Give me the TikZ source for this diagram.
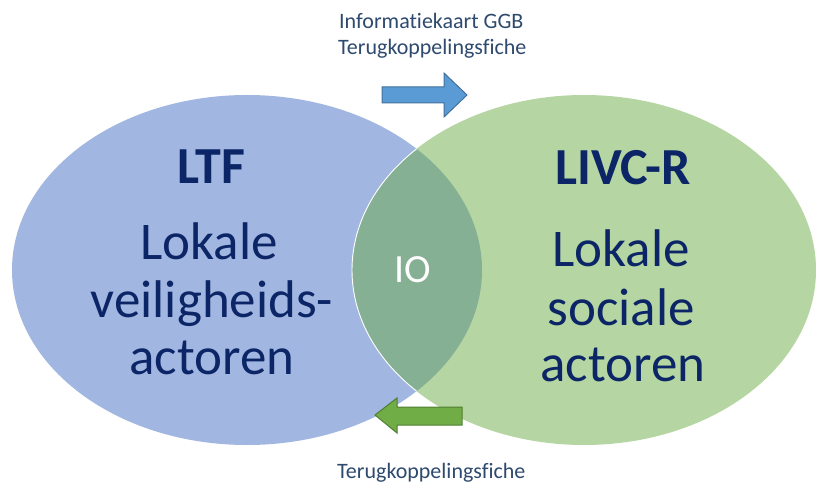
\documentclass[tikz,border=0pt]{standalone}
\usepackage{fontspec}
\setmainfont{Carlito}[RawFeature={-liga;-calt;-dlig;-clig}]
\definecolor{lblue}{HTML}{A1B7E1}
\definecolor{lgreen}{HTML}{B5D5A2}
\definecolor{lens}{HTML}{86B093}
\definecolor{navy}{HTML}{0B2566}
\definecolor{txtgrey}{HTML}{2E4A6E}
\definecolor{arrblue}{HTML}{5B9BD5}
\definecolor{arrblueline}{HTML}{41719C}
\definecolor{arrgreen}{HTML}{70AD47}
\definecolor{arrgreenline}{HTML}{507E32}
\tikzset{
  title/.style={anchor=base, text=navy, font=\fontsize{52}{60}\selectfont\bfseries, inner sep=0pt},
  body/.style={anchor=base, text=navy, font=\fontsize{53}{60}\selectfont, inner sep=0pt},
  small/.style={anchor=base west, text=txtgrey, font=\fontsize{22}{26}\selectfont, inner sep=0pt},
  blockarrow/.style={line width=1pt, line join=miter}
}
\begin{document}
\begin{tikzpicture}[x=1pt,y=-1pt]
\useasboundingbox (0,0) rectangle (816,486);
\fill[white] (0,0) rectangle (816,486);
% ellipses
\fill[lblue] (247,270) ellipse [x radius=235, y radius=175];
\fill[lgreen] (584,270) ellipse [x radius=232, y radius=175];
\begin{scope}
  \clip (247,270) ellipse [x radius=235, y radius=175];
  \fill[lens] (584,270) ellipse [x radius=232, y radius=175];
  \draw[white, line width=0.9pt] (584,270) ellipse [x radius=232, y radius=175];
\end{scope}
% left texts
\node[title] (ltf) at (211,184) {LTF};
\node[body] (l1) at (209,259) {Lokale};
\node[body] (l2) at (212,317) {veiligheids-};
\node[body] (l3) at (212,374) {actoren};
% right texts
\node[title] (livc) at (623,185) {LIVC-R};
\node[body] (r1) at (621,267) {Lokale};
\node[body] (r2) at (621,325) {sociale};
\node[body] (r3) at (623,381) {actoren};
% intersection
\node[anchor=base, text=white, font=\fontsize{40}{46}\selectfont, inner sep=0pt] (io) at (413,282) {IO};
% top labels
\node[small] (t1) at (339,29) {Informatiekaart GGB};
\node[small] (t2) at (338,55) {Terugkoppelingsfiche};
% bottom label
\node[small] (b1) at (337,478) {Terugkoppelingsfiche};
% arrows
\filldraw[blockarrow, fill=arrblue, draw=arrblueline]
  (382,87) -- (444,87) -- (444,73) -- (467,95) -- (444,117) -- (444,103) -- (382,103) -- cycle;
\filldraw[blockarrow, fill=arrgreen, draw=arrgreenline]
  (462,407) -- (397,407) -- (397,398) -- (375,415) -- (397,433) -- (397,425) -- (462,425) -- cycle;
\end{tikzpicture}
\end{document}
